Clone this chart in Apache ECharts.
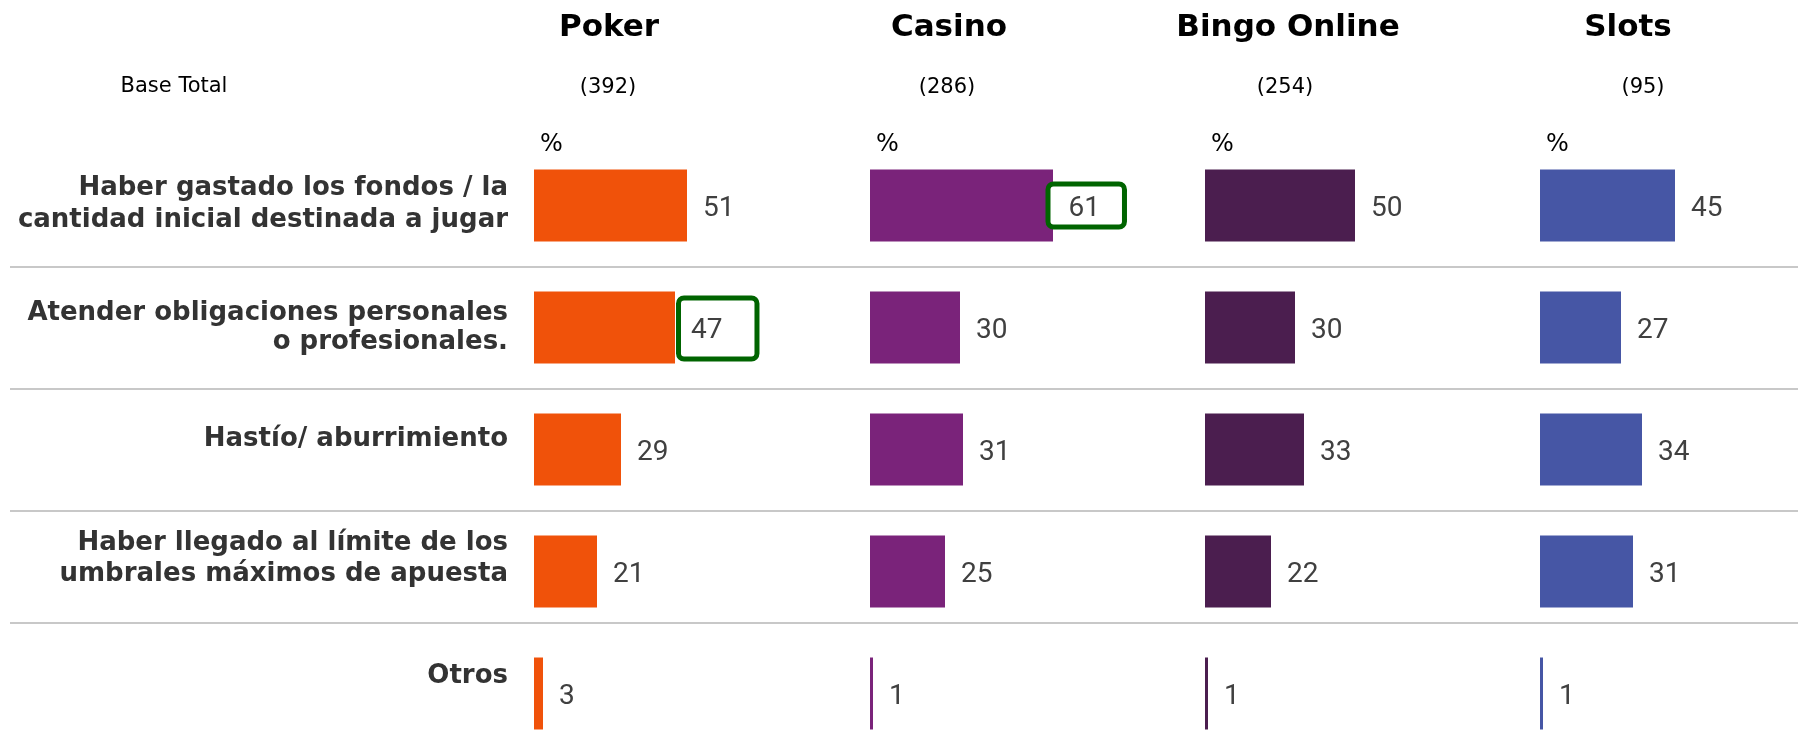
<!DOCTYPE html>
<html>
<head>
<meta charset="utf-8">
<script src="https://cdn.jsdelivr.net/npm/echarts@6/dist/echarts.min.js"></script>
<style>
  html, body { margin: 0; padding: 0; background: #fff; }
  #chart { width: 1798px; height: 730px; }
</style>
</head>
<body>
<div id="chart"></div>
<script>
// datos de la tabla
const games = ['Poker', 'Casino', 'Bingo Online', 'Slots'];
const bases = ['(392)', '(286)', '(254)', '(95)'];
const reasons = [
    'Haber gastado los fondos / la\ncantidad inicial destinada a jugar',
    'Atender obligaciones personales\no profesionales.',
    'Hastío/ aburrimiento',
    'Haber llegado al límite de los\numbrales máximos de apuesta',
    'Otros'
];
const poker = [51, 47, 29, 21, 3];
const casino = [61, 30, 31, 25, 1];
const bingo = [50, 30, 33, 22, 1];
const slots = [45, 27, 34, 31, 1];
// celdas marcadas con recuadro verde (índice de fila por juego)
const boxed = [[1], [0], [], []];

// layout
const colors = ['#F0520A', '#7A237A', '#4B1E4F', '#4656A5'];
const panelLeft = [534, 870, 1205, 1540];
const headerX = [609, 949, 1288, 1628];
const baseX = [608, 947, 1285, 1643];
const gridTop = 144.5;
const gridHeight = 610;
const rowLineHeight = [32, 28.5, 32, 31.5, 32];
const labelLift = [1.75, 0, 10, 13, 17.75];
const rowDividers = [1, 2, 3, 3.92];  // en unidades de fila
const boxStyles = [
    { padding: [16, 32, 12, 10], distance: 6, offset: [0, 1] },
    { padding: [8, 22, 2, 18], distance: -2.5, offset: [0, 0] },
    {}, {}
];
const valueFont = { fontFamily: 'Roboto', fontSize: 28, color: '#404040' };

const chart = echarts.init(document.getElementById('chart'), null, { renderer: 'canvas' });
const seriesData = [poker, casino, bingo, slots];

// estilos rich por fila para ajustar la posición vertical de las etiquetas
const rich = {};
reasons.forEach((r, k) => {
    rich['t' + k] = {
        fontFamily: 'DejaVu Sans',
        fontWeight: 'bold',
        fontSize: 26,
        lineHeight: rowLineHeight[k],
        color: '#333333',
        align: 'right'
    };
    rich['s' + k] = { fontSize: 1, lineHeight: Math.max(1, labelLift[k] * 2), align: 'right' };
});

const grids = [];
const xAxes = [];
const yAxes = [];
const series = [];

seriesData.forEach((vals, i) => {
    grids.push({ left: panelLeft[i], top: gridTop, width: 300, height: gridHeight, containLabel: false, outerBoundsMode: 'none' });
    xAxes.push({ gridIndex: i, type: 'value', min: 0, max: 100, show: false });
    yAxes.push({
        gridIndex: i,
        type: 'category',
        inverse: true,
        data: reasons,
        axisLine: { show: false },
        axisTick: { show: false },
        splitLine: { show: false },
        axisLabel: {
            show: i === 0,
            interval: 0,
            margin: 26,
            align: 'right',
            fontSize: 1,
            lineHeight: 1,
            formatter: (val, idx) => {
                const lines = val.split('\n').map(l => '{t' + idx + '|' + l + '}');
                if (labelLift[idx] > 0) lines.push('{s' + idx + '| }');
                return lines.join('\n');
            },
            rich: rich
        }
    });
    series.push({
        type: 'bar',
        xAxisIndex: i,
        yAxisIndex: i,
        barWidth: 72,
        itemStyle: { color: colors[i] },
        label: Object.assign({
            show: true,
            position: 'right',
            distance: 16,
            offset: [0, 3]
        }, valueFont),
        data: vals.map((v, k) => {
            if (boxed[i].indexOf(k) === -1) return v;
            return {
                value: v,
                label: {
                    formatter: '{v|{c}}',
                    rich: { v: Object.assign({}, valueFont) },
                    distance: boxStyles[i].distance,
                    padding: boxStyles[i].padding,
                    offset: boxStyles[i].offset,
                    borderColor: '#006400',
                    borderWidth: 5,
                    borderRadius: 3,
                    backgroundColor: '#fff'
                }
            };
        })
    });
});

// separadores horizontales entre filas
grids.push({ left: 10, right: 0, top: gridTop, height: gridHeight, containLabel: false, outerBoundsMode: 'none' });
xAxes.push({ gridIndex: 4, type: 'value', min: 0, max: 100, show: false });
yAxes.push({ gridIndex: 4, type: 'value', inverse: true, min: 0, max: 5, show: false });
series.push({
    type: 'line',
    xAxisIndex: 4,
    yAxisIndex: 4,
    data: [],
    silent: true,
    markLine: {
        silent: true,
        symbol: 'none',
        label: { show: false },
        lineStyle: { color: '#C8C8C8', width: 2, type: 'solid' },
        data: rowDividers.map(d => ({ yAxis: d }))
    }
});

const txt = (text, x, y, size, weight, align) => ({
    type: 'text',
    x: x,
    y: y,
    silent: true,
    style: {
        text: text,
        fill: '#000',
        fontFamily: 'DejaVu Sans',
        fontSize: size,
        fontWeight: weight,
        align: align,
        textAlign: align,
        verticalAlign: 'middle',
        textVerticalAlign: 'middle'
    }
});

const graphics = [txt('Base Total', 174, 87, 21, 'normal', 'center')];
games.forEach((g, i) => {
    graphics.push(txt(g, headerX[i], 27.5, 31, 'bold', 'center'));
    graphics.push(txt(bases[i], baseX[i], 87.5, 21, 'normal', 'center'));
    graphics.push(txt('%', panelLeft[i] + 6, 145, 24, 'normal', 'left'));
});

chart.setOption({
    animation: false,
    backgroundColor: '#fff',
    grid: grids,
    xAxis: xAxes,
    yAxis: yAxes,
    series: series,
    graphic: graphics
});
</script>
</body>
</html>
